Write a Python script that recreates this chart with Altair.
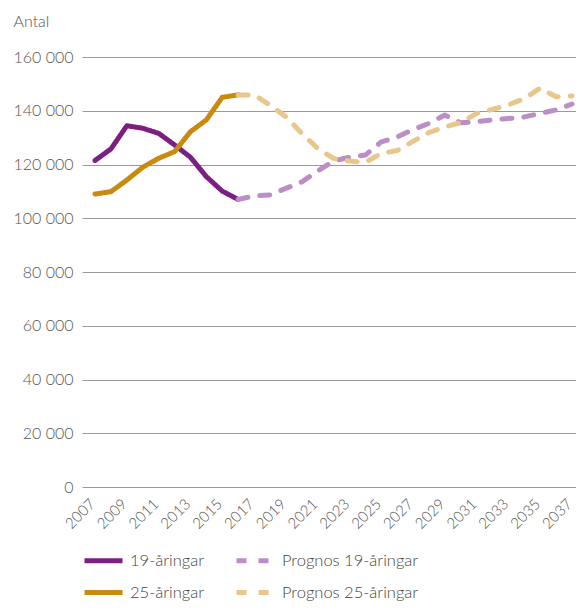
import altair as alt
import pandas as pd

years_hist = list(range(2007, 2017))
years_prog = list(range(2016, 2038))

v19 = [121500, 125800, 134400, 133500, 131600, 127300, 122700, 115500, 110100, 107000]
v25 = [109000, 109900, 114200, 119000, 122300, 124800, 132200, 136600, 145000, 145900]

p19 = [107000, 108300, 108700, 111100, 113500, 117600, 121300, 122700, 123500, 128400,
       130200, 133000, 135300, 138400, 135500, 136000, 136600, 137100, 137700, 139000,
       140300, 142500]
p25 = [145900, 145900, 142100, 137800, 131600, 126000, 122300, 121300, 120800, 124100,
       125200, 128600, 131900, 134000, 135600, 139000, 140500, 142200, 144500, 148400,
       145200, 145500]

series_names = ["19-åringar", "Prognos 19-åringar", "25-åringar", "Prognos 25-åringar"]
series_colors = ["#7b2082", "#bb8ec8", "#c98b0f", "#e9c68c"]
series_dash = [[1, 0], [10, 12], [1, 0], [10, 12]]

rows = []
for y, v in zip(years_hist, v19):
    rows.append({"year": y, "value": v, "series": series_names[0]})
for y, v in zip(years_prog, p19):
    rows.append({"year": y, "value": v, "series": series_names[1]})
for y, v in zip(years_hist, v25):
    rows.append({"year": y, "value": v, "series": series_names[2]})
for y, v in zip(years_prog, p25):
    rows.append({"year": y, "value": v, "series": series_names[3]})
df = pd.DataFrame(rows)

tick_years = list(range(2007, 2038, 2))
FONT = "Lato"


def make_legend():
    return alt.Legend(title=None, orient="none", legendX=0, legendY=482, padding=0,
                      direction="horizontal", columns=2, columnPadding=21,
                      rowPadding=-17, gridAlign="each",
                      symbolType="stroke", symbolSize=1444,
                      symbolStrokeWidth=5, labelOffset=5,
                      labelFont=FONT, labelFontSize=16.5,
                      labelColor="#444444", labelFontWeight=300,
                      values=series_names)


chart = alt.Chart(df).mark_line(strokeWidth=5, strokeCap="round", strokeJoin="round").encode(
    x=alt.X("year:Q",
            scale=alt.Scale(domain=[2006.18, 2037.25], nice=False, zero=False),
            axis=alt.Axis(values=tick_years, format="d", labelAngle=-45, labelAlign="right",
                          labelBaseline="middle", labelPadding=14, labelOffset=-3,
                          labelOverlap=False,
                          grid=False, domain=False,
                          ticks=False, title=None, labelFont=FONT, labelFontSize=15,
                          labelColor="#555555", labelFontWeight=300)),
    y=alt.Y("value:Q",
            scale=alt.Scale(domain=[0, 160000], nice=False),
            axis=alt.Axis(values=list(range(0, 160001, 20000)),
                          labelExpr="replace(format(datum.value, ','), /,/g, ' ')",
                          grid=True, gridColor="#9a9a9a", gridWidth=1, domain=False,
                          ticks=False, labelPadding=9, labelFont=FONT, labelFontSize=16,
                          labelColor="#555555", labelFontWeight=300,
                          title="Antal", titleAngle=0, titleAlign="left",
                          titleBaseline="alphabetic", titleX=-69, titleY=-31,
                          titleFont=FONT, titleFontSize=16, titleFontWeight=300,
                          titleColor="#555555")),
    color=alt.Color("series:N", sort=series_names,
                    scale=alt.Scale(domain=series_names, range=series_colors),
                    legend=make_legend()),
    strokeDash=alt.StrokeDash("series:N", sort=series_names,
                              scale=alt.Scale(domain=series_names, range=series_dash),
                              legend=make_legend()),
    detail="series:N",
).properties(
    width=494, height=430,
    autosize=alt.AutoSizeParams(type="none"),
    padding={"left": 74, "top": 49, "right": 0, "bottom": 115},
).configure_view(stroke=None, clip=False)

chart.save("out.html", embed_options={"renderer": "svg", "actions": False})
